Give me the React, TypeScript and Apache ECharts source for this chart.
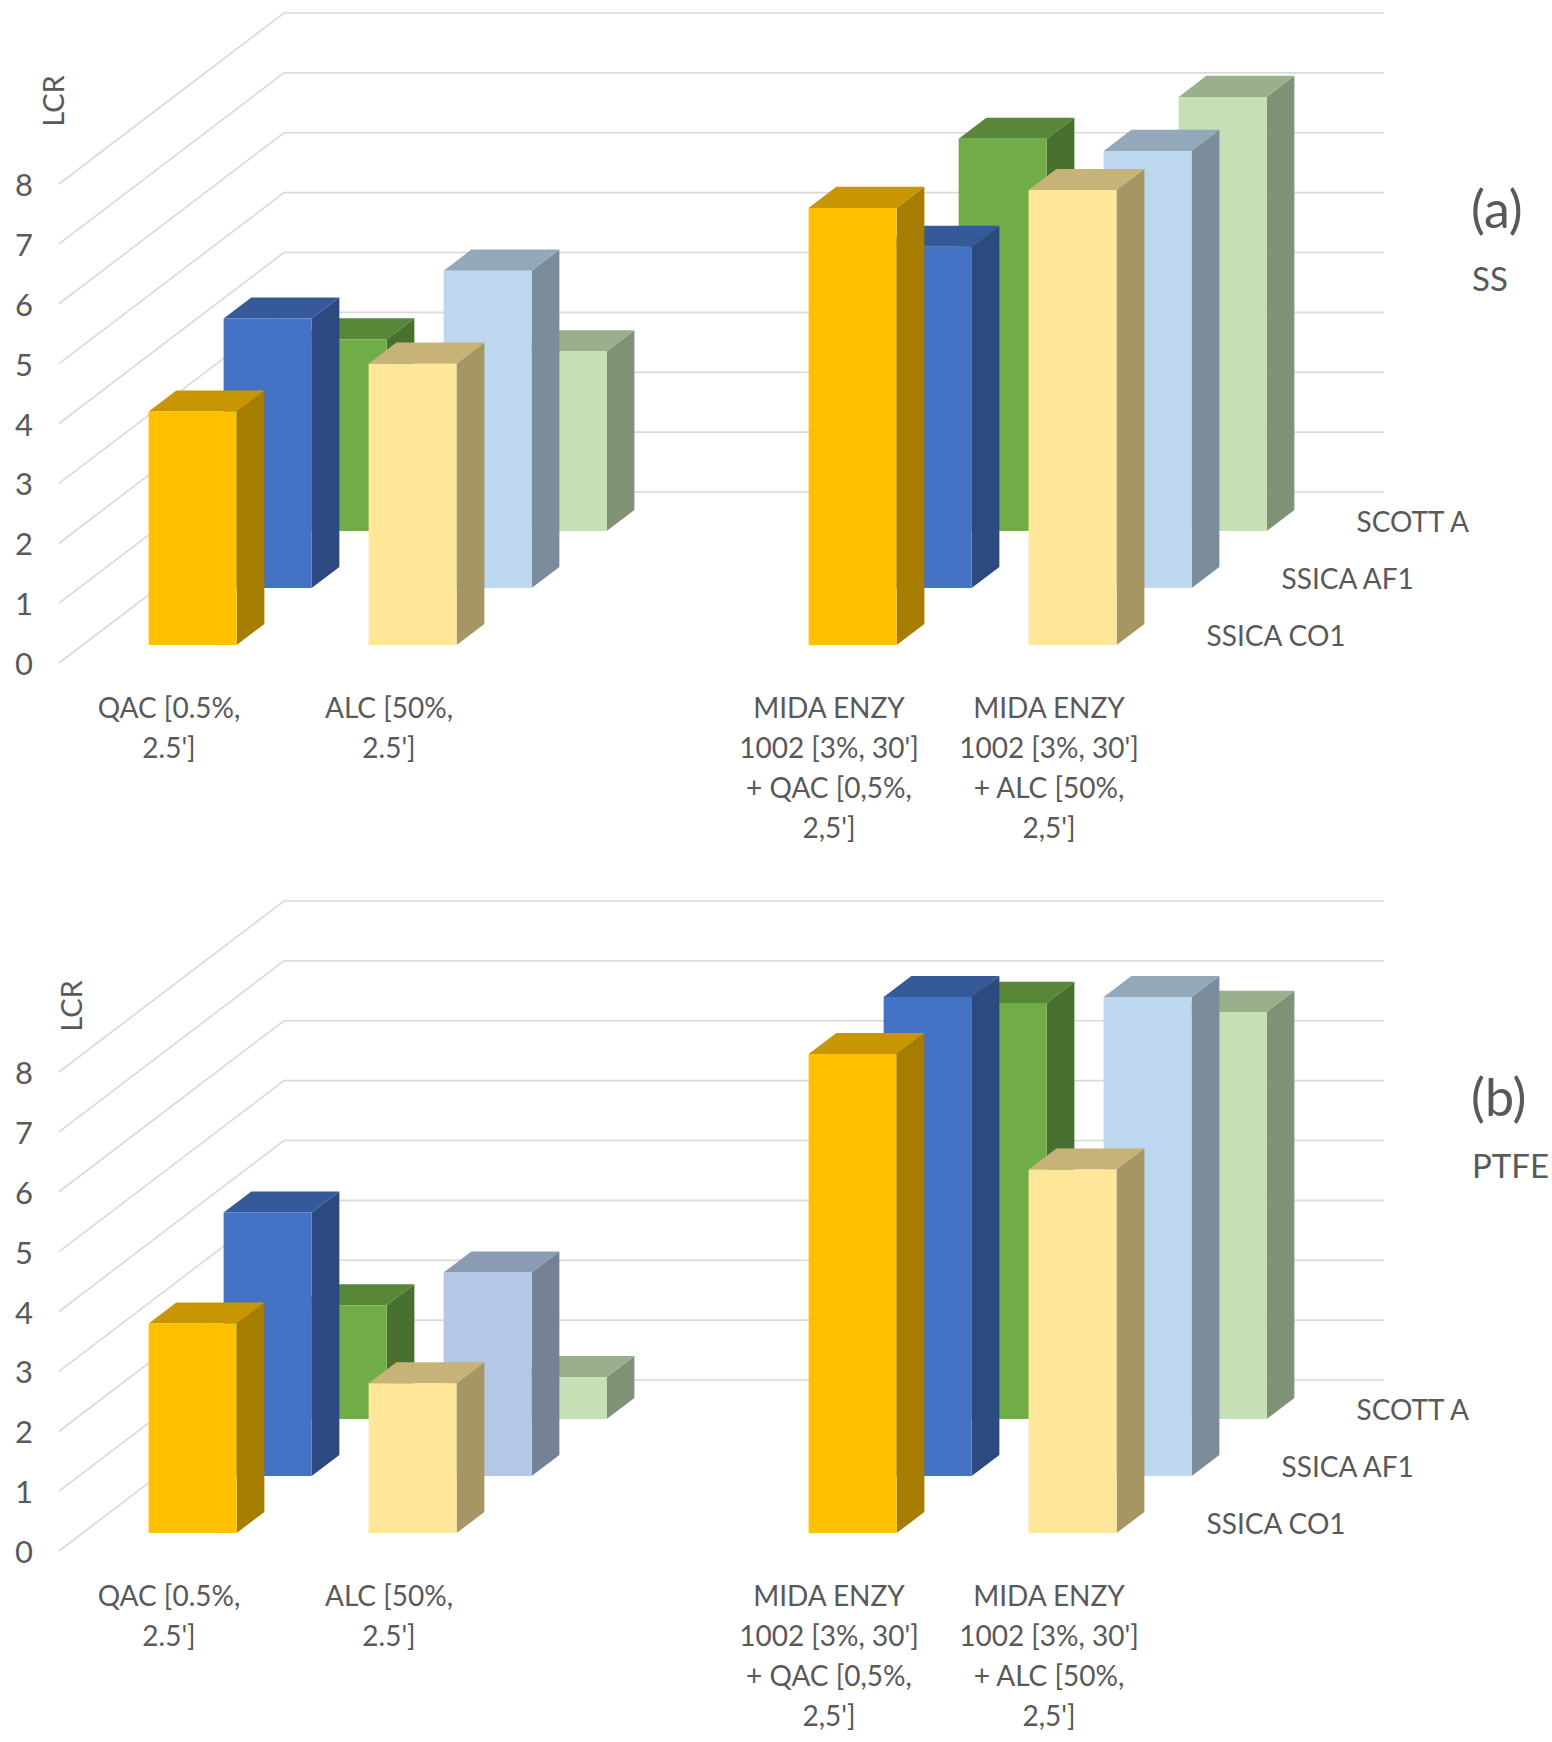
import { useEffect, useRef } from 'react';
import * as echarts from 'echarts';

// categories along the x axis (the third one is an empty slot)
const categories = [
  "QAC [0.5%,\n2.5']",
  "ALC [50%,\n2.5']",
  '',
  "MIDA ENZY\n1002 [3%, 30']\n+ QAC [0,5%,\n2,5']",
  "MIDA ENZY\n1002 [3%, 30']\n+ ALC [50%,\n2,5']",
];

// depth rows, front to back
const rowNames = ['SSICA CO1', 'SSICA AF1', 'SCOTT A'];

const yTicks = [0, 1, 2, 3, 4, 5, 6, 7, 8];

// (a) SS
const ssCO1 = [3.9, 4.7, null, 7.3, 7.6];
const ssAF1 = [4.5, 5.3, null, 5.7, 7.3];
const ssScottA = [3.2, 3.0, null, 6.55, 7.25];

// (b) PTFE
const ptfeCO1 = [3.5, 2.5, null, 8.0, 6.07];
const ptfeAF1 = [4.4, 3.4, null, 8.0, 8.0];
const ptfeScottA = [1.9, 0.7, null, 6.95, 6.8];

const co1Colors = ['#FFC000', '#FFE699', '', '#FFC000', '#FFE699'];
const ssAF1Colors = ['#4472C4', '#BDD7EE', '', '#4472C4', '#BDD7EE'];
const ptfeAF1Colors = ['#4472C4', '#B4C7E7', '', '#4472C4', '#BDD7EE'];
const scottColors = ['#70AD47', '#C5E0B4', '', '#70AD47', '#C5E0B4'];

const FONT = 'Lato, "Noto Sans", sans-serif';
const TEXT = '#595959';
const GRID_LINE = '#D9D9D9';

// oblique projection of the floor depth
const DEPTH_X = 225;
const DEPTH_Y = -171;
const ROWS = 3;
const BAR_DEPTH = 0.37; // share of a row slot
const BAR_WIDTH = 0.4; // share of a category band

const GRID_LEFT = 59;
const GRID_WIDTH = 1100;
const GRID_HEIGHT = 479;
const PANEL_TOPS = [184, 1072];

function shade(hex: string, k: number): string {
  const n = parseInt(hex.slice(1), 16);
  const r = Math.round(((n >> 16) & 255) * k);
  const g = Math.round(((n >> 8) & 255) * k);
  const b = Math.round((n & 255) * k);
  return '#' + ((1 << 24) + (r << 16) + (g << 8) + b).toString(16).slice(1);
}

function barSeries(gridIndex: number, row: number, values: (number | null)[], colors: string[]) {
  const data: number[][] = [];
  values.forEach((v, i) => {
    if (v != null) data.push([i, v]);
  });
  return {
    type: 'custom',
    name: rowNames[row],
    xAxisIndex: gridIndex,
    yAxisIndex: gridIndex,
    z: 3,
    data,
    renderItem: (_params: any, api: any) => {
      const idx = api.value(0);
      const val = api.value(1);
      const base = api.coord([idx, 0]);
      const top = api.coord([idx, val]);
      const band = api.size([1, 0])[0];
      const w = band * BAR_WIDTH;
      const d0 = (row + 0.5 - BAR_DEPTH / 2) / ROWS;
      const d1 = (row + 0.5 + BAR_DEPTH / 2) / ROWS;
      const xl = base[0] - w / 2;
      const xr = base[0] + w / 2;
      const color = colors[idx];
      const p = (x: number, y: number, d: number) => [x + d * DEPTH_X, y + d * DEPTH_Y];
      return {
        type: 'group',
        children: [
          {
            type: 'polygon',
            shape: { points: [p(xr, base[1], d0), p(xr, top[1], d0), p(xr, top[1], d1), p(xr, base[1], d1)] },
            style: { fill: shade(color, 0.65) },
          },
          {
            type: 'polygon',
            shape: { points: [p(xl, top[1], d0), p(xl, top[1], d1), p(xr, top[1], d1), p(xr, top[1], d0)] },
            style: { fill: shade(color, 0.78) },
          },
          {
            type: 'polygon',
            shape: { points: [p(xl, base[1], d0), p(xl, top[1], d0), p(xr, top[1], d0), p(xr, base[1], d0)] },
            style: { fill: color },
          },
        ],
      };
    },
  };
}

function wallSeries(gridIndex: number) {
  return {
    type: 'custom',
    xAxisIndex: gridIndex,
    yAxisIndex: gridIndex,
    z: 1,
    silent: true,
    data: yTicks.map((t) => [0, t]),
    renderItem: (_params: any, api: any) => {
      const band = api.size([1, 0])[0];
      const first = api.coord([0, api.value(1)]);
      const last = api.coord([categories.length - 1, api.value(1)]);
      const left = first[0] - band / 2;
      const right = last[0] + band / 2;
      const y = first[1];
      return {
        type: 'polyline',
        shape: {
          points: [
            [left, y],
            [left + DEPTH_X, y + DEPTH_Y],
            [right + DEPTH_X, y + DEPTH_Y],
          ],
        },
        style: { stroke: GRID_LINE, lineWidth: 1.6, fill: 'none' },
      };
    },
  };
}

function depthLabelSeries(gridIndex: number) {
  return {
    type: 'custom',
    xAxisIndex: gridIndex,
    yAxisIndex: gridIndex,
    z: 1,
    silent: true,
    data: rowNames.map((_n, r) => [r, 0]),
    renderItem: (_params: any, api: any) => {
      const r = api.value(0);
      const band = api.size([1, 0])[0];
      const last = api.coord([categories.length - 1, 0]);
      const d = (r + 0.5) / ROWS;
      return {
        type: 'text',
        x: last[0] + band / 2 + d * DEPTH_X + 10,
        y: last[1] + d * DEPTH_Y,
        style: {
          text: rowNames[r],
          fill: TEXT,
          fontSize: 28,
          fontFamily: FONT,
          align: 'left',
          verticalAlign: 'middle',
        },
      };
    },
  };
}

function panelText(x: number, y: number, text: string, fontSize: number, rotation = 0) {
  return {
    type: 'text',
    x,
    y,
    rotation,
    style: { text, fill: TEXT, fontSize, fontFamily: FONT, align: rotation ? 'center' : 'left', verticalAlign: 'middle' },
  };
}

export default function App() {
  const ref = useRef<HTMLDivElement>(null);

  useEffect(() => {
    if (!ref.current) return;
    const chart = echarts.init(ref.current, undefined, { renderer: 'svg' });

    const grids = PANEL_TOPS.map((top) => ({ left: GRID_LEFT, top, width: GRID_WIDTH, height: GRID_HEIGHT }));

    chart.setOption({
      animation: false,
      backgroundColor: '#ffffff',
      grid: grids,
      xAxis: grids.map((_g, i) => ({
        type: 'category',
        gridIndex: i,
        data: categories,
        axisLine: { show: false },
        axisTick: { show: false },
        splitLine: { show: false },
        axisLabel: {
          interval: 0,
          margin: 24,
          color: TEXT,
          fontSize: 28,
          lineHeight: 40,
          fontFamily: FONT,
          align: 'center',
        },
      })),
      yAxis: grids.map((_g, i) => ({
        type: 'value',
        gridIndex: i,
        min: 0,
        max: 8,
        interval: 1,
        axisLine: { show: false },
        axisTick: { show: false },
        splitLine: { show: false },
        axisLabel: { margin: 26, color: TEXT, fontSize: 31, fontFamily: FONT },
      })),
      graphic: [
        panelText(52, 101, 'LCR', 29, Math.PI / 2),
        panelText(1471, 208, '(a)', 52),
        panelText(1472, 278, 'SS', 33),
        panelText(70, 1006, 'LCR', 29, Math.PI / 2),
        panelText(1471, 1096, '(b)', 52),
        panelText(1472, 1165, 'PTFE', 33),
      ],
      series: [
        wallSeries(0),
        depthLabelSeries(0),
        barSeries(0, 2, ssScottA, scottColors),
        barSeries(0, 1, ssAF1, ssAF1Colors),
        barSeries(0, 0, ssCO1, co1Colors),
        wallSeries(1),
        depthLabelSeries(1),
        barSeries(1, 2, ptfeScottA, scottColors),
        barSeries(1, 1, ptfeAF1, ptfeAF1Colors),
        barSeries(1, 0, ptfeCO1, co1Colors),
      ],
    });

    return () => {
      chart.dispose();
    };
  }, []);

  return <div ref={ref} style={{ position: 'absolute', left: 0, top: 0, width: 1552, height: 1742 }} />;
}
